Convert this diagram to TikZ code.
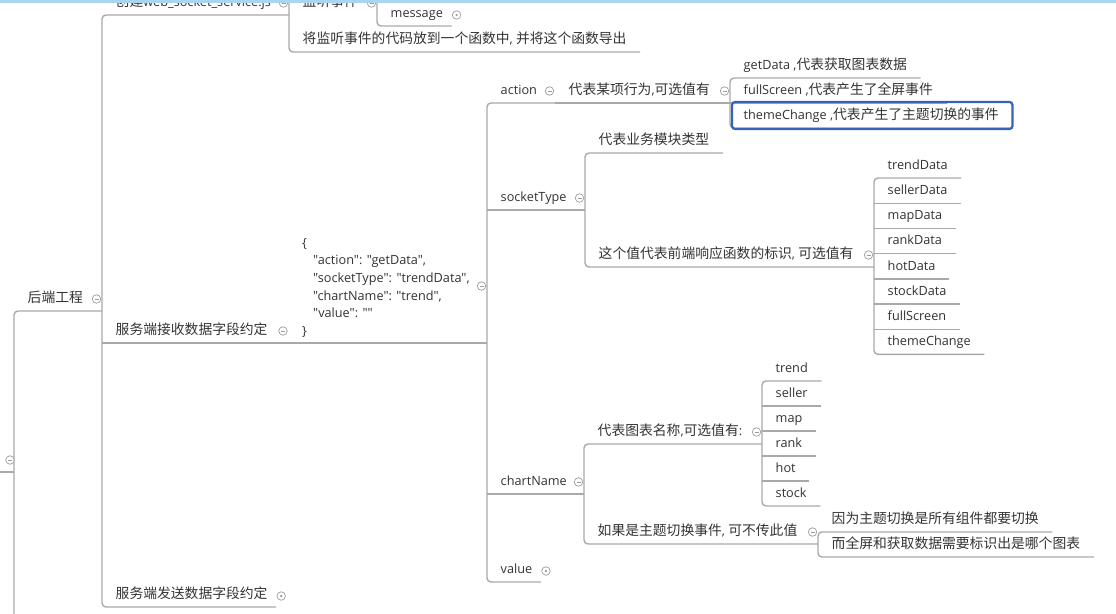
\documentclass[tikz,border=0pt]{standalone}
\usepackage{fontspec}
\setmainfont{Open Sans}[Scale=0.92, Ligatures=TeXOff]
\newfontfamily\zh{Noto Sans CJK SC}
\usetikzlibrary{calc}
\definecolor{linegray}{HTML}{A9A9A9}
\definecolor{toggray}{HTML}{9C9C9C}
\definecolor{txtgray}{HTML}{333333}
\definecolor{selblue}{HTML}{3563B8}
\definecolor{barblue}{HTML}{AAD4F2}
\tikzset{
	topic/.style={anchor=south west, inner xsep=13.5pt, inner ysep=8.5pt, text height=10pt, text depth=0pt,
		text=txtgray, font=\fontsize{13.8}{17.6}\selectfont},
	jsonbox/.style={anchor=south west, inner xsep=13.5pt, inner ysep=5.5pt, align=left,
		text=txtgray, font=\fontsize{13.8}{17.6}\selectfont},
	link/.style={draw=linegray, line width=1.4pt},
	togopen/.style={circle, draw=toggray, fill=white, line width=0.7pt, minimum size=8.5pt, inner sep=0pt,
		path picture={\draw[toggray, line width=0.7pt] ([xshift=-2pt]path picture bounding box.center) -- ([xshift=2pt]path picture bounding box.center);}},
	togshut/.style={circle, draw=toggray, fill=white, line width=0.7pt, minimum size=8.5pt, inner sep=0pt,
		path picture={\fill[toggray] (path picture bounding box.center) circle (1.3pt);}},
	selbox/.style={draw=selblue, line width=2.2pt, rounded corners=3pt}
}
\begin{document}
\begin{tikzpicture}[x=1pt, y=-1pt]
	\useasboundingbox (0,0) rectangle (1116,613);
	\fill[white] (0,0) rectangle (1116,613);

	\node[topic] (backend) at (14,311) {\zh 后端工程};
	\node[topic] (create) at (102,15) {{\zh 创建}web\_socket\_service.js};
	\node[topic] (listen) at (289,15) {\zh 监听事件};
	\node[topic] (message) at (377,26) {message};
	\node[topic] (export) at (289,52) {{\zh 将监听事件的代码放到一个函数中}, {\zh 并将这个函数导出}};
	\node[topic] (recv) at (102,343) {\zh 服务端接收数据字段约定};
	\node[topic] (send) at (102,607) {\zh 服务端发送数据字段约定};
	\node[jsonbox] (json) at (288.5,343) {\{\\
		\hspace*{11pt}"action": "getData",\\
		\hspace*{11pt}"socketType": "trendData",\\
		\hspace*{11pt}"chartName": "trend",\\
		\hspace*{11pt}"value": ""\\
		\}};

	\node[topic] (act) at (487,103) {action};
	\node[topic] (actdesc) at (555,103) {{\zh 代表某项行为},{\zh 可选值有}};
	\node[topic] (getdata) at (730,78) {getData ,{\zh 代表获取图表数据}};
	\node[topic] (fullscr) at (730,103) {fullScreen ,{\zh 代表产生了全屏事件}};
	\node[topic] (thc) at (730,128) {themeChange ,{\zh 代表产生了主题切换的事件}};

	\node[topic] (sock) at (487,210) {socketType};
	\node[topic] (sockdesc) at (585,153) {\zh 代表业务模块类型};
	\node[topic] (sockval) at (585,267) {{\zh 这个值代表前端响应函数的标识}, {\zh 可选值有}};
	\foreach \name [count=\i from 1] in {trendData,sellerData,mapData,rankData,hotData,stockData,fullScreen,themeChange}{%
		\node[topic] (sd-\i) at (874,{178+25.2*(\i-1)}) {\name};
	}

	\node[topic] (chart) at (487,494) {chartName};
	\node[topic] (chartdesc) at (584,444) {{\zh 代表图表名称},{\zh 可选值有}:};
	\foreach \name [count=\i from 1] in {trend,seller,map,rank,hot,stock}{%
		\node[topic] (cn-\i) at (762,{381+25*(\i-1)}) {\name};
	}
	\node[topic] (chartnote) at (584,544) {{\zh 如果是主题切换事件}, {\zh 可不传此值}};
	\node[topic] (why1) at (818,532) {\zh 因为主题切换是所有组件都要切换};
	\node[topic] (why2) at (818,557) {\zh 而全屏和获取数据需要标识出是哪个图表};
	\node[topic] (value) at (487,582) {value};

	\coordinate (hub) at (0,472);
	\coordinate (hubend) at (14,640);
	\coordinate (ctop) at (289,-30);
	\coordinate (ltop) at (377,-30);

	\draw[link] (hub) -- (hub -| backend.south west);
	\draw[link, rounded corners=4pt] (create.south west |- backend.south) -- (backend.south west) -- (hubend);
	\draw[link, rounded corners=4pt] (listen.south west) -- (create.south west) -- (send.south west) -- ($(send.south east)+(-5,0)$);
	\draw[link, rounded corners=4pt] (ctop) -- (export.south west) -- (export.south east);
	\draw[link, rounded corners=4pt] (ltop) -- (message.south west) -- ($(message.south east)+(-5,0)$);
	\draw[link] (recv.south west) -- (json.south west) -- (act.south west |- json.south);

	\draw[link, rounded corners=4pt] (actdesc.south west) -- (act.south west) -- (value.south west) -- ($(value.south east)+(-5,0)$);
	\draw[link] (sock.south west) -- (sockdesc.south west |- sock.south);
	\draw[link] (chart.south west) -- (chartdesc.south west |- chart.south);

	\draw[link] (actdesc.south west) -- (getdata.south west |- actdesc.south);
	\draw[link] (fullscr.south west) -- (fullscr.south east);
	\draw[link, rounded corners=4pt] (getdata.south east) -- (getdata.south west) -- (thc.south west) -- (thc.south east);

	\draw[link, rounded corners=4pt] (sockdesc.south east) -- (sockdesc.south west) -- (sockval.south west) -- (sd-1.south west |- sockval.south);
	\draw[link, rounded corners=4pt] (sd-1.south east) -- (sd-1.south west) -- (sd-8.south west) -- (sd-8.south east);
	\foreach \i in {2,...,7}{%
		\draw[link] (sd-\i.south west) -- (sd-\i.south east);
	}

	\draw[link, rounded corners=4pt] (cn-1.south west |- chartdesc.south) -- (chartdesc.south west) -- (chartnote.south west) -- (why1.south west |- chartnote.south);
	\draw[link, rounded corners=4pt] (cn-1.south east) -- (cn-1.south west) -- (cn-6.south west) -- (cn-6.south east);
	\foreach \i in {2,...,5}{%
		\draw[link] (cn-\i.south west) -- (cn-\i.south east);
	}
	\draw[link, rounded corners=4pt] (why1.south east) -- (why1.south west) -- (why2.south west) -- (why2.south east);

	\draw[selbox] ($(thc.south west)+(2,1)$) rectangle ($(thc.south east)+(0,-26)$);

	\node[togopen] (t-hub) at (10,460) {};
	\node[togopen] (t-backend) at ($(create.south west |- backend.south)+(-5.5,-12)$) {};
	\node[togopen] (t-create) at ($(listen.south west)+(-5.5,-12)$) {};
	\node[togopen] (t-listen) at ($(message.south west |- listen.south)+(-5.5,-12)$) {};
	\node[togshut] (t-message) at ($(message.south east)+(0,-11)$) {};
	\node[togopen] (t-recv) at ($(json.south west |- recv.south)+(-5.5,-12)$) {};
	\node[togshut] (t-send) at ($(send.south east)+(0,-11)$) {};
	\node[togopen] (t-json) at ($(act.south west |- json.south)+(-5.5,-57)$) {};
	\node[togopen] (t-act) at ($(actdesc.south west)+(-5.5,-12)$) {};
	\node[togopen] (t-actdesc) at ($(getdata.south west |- actdesc.south)+(-5.5,-12)$) {};
	\node[togopen] (t-sock) at ($(sockdesc.south west |- sock.south)+(-5.5,-12)$) {};
	\node[togopen] (t-sockval) at ($(sd-1.south west |- sockval.south)+(-5.5,-12)$) {};
	\node[togopen] (t-chart) at ($(chartdesc.south west |- chart.south)+(-5.5,-12)$) {};
	\node[togopen] (t-chartdesc) at ($(cn-1.south west |- chartdesc.south)+(-5.5,-12)$) {};
	\node[togopen] (t-chartnote) at ($(why1.south west |- chartnote.south)+(-5.5,-12)$) {};
	\node[togshut] (t-value) at ($(value.south east)+(0,-11)$) {};

	\fill[barblue] (0,0) rectangle (1116,2.5);
\end{tikzpicture}
\end{document}
